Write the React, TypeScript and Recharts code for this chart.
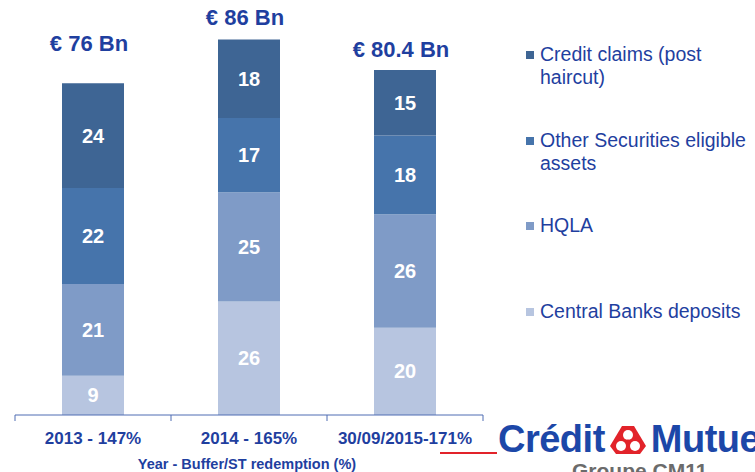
import React from 'react';
import { BarChart, Bar, XAxis, YAxis, LabelList } from 'recharts';

// values in € Bn
const categories = ['2013 - 147%', '2014 - 165%', '30/09/2015-171%'];
const centralBanks = [9, 26, 20];
const hqla = [21, 25, 26];
const otherSecurities = [22, 17, 18];
const creditClaims = [24, 18, 15];
const totals = ['€ 76 Bn', '€ 86 Bn', '€ 80.4 Bn'];

const legendItems = [
    { name: 'Credit claims (post haircut)', lines: ['Credit claims (post', 'haircut)'], color: '#3E6594' },
    { name: 'Other Securities eligible assets', lines: ['Other Securities eligible', 'assets'], color: '#4674AB' },
    { name: 'HQLA', lines: ['HQLA'], color: '#7F9BC7' },
    { name: 'Central Banks deposits', lines: ['Central Banks deposits'], color: '#B7C5E0' },
];

const BLUE_TEXT = '#1F3F9F';
const AXIS_COLOR = '#4F6DB3';
const AXIS_Y = 415;
const BAND = 156;
// how far each total label sits above its bar
const totalLift = [32, 14, 13];

const data = categories.map((name, i) => ({
    name,
    central: centralBanks[i],
    hqla: hqla[i],
    other: otherSecurities[i],
    credit: creditClaims[i],
    total: totals[i],
}));

const AxisTick = (props: any) => {
    const { x, payload, index } = props;
    const half = BAND / 2;
    return (
        <g>
            <line x1={x - half} x2={x - half} y1={AXIS_Y} y2={AXIS_Y + 6} stroke={AXIS_COLOR} strokeWidth={1} />
            {index === categories.length - 1 && (
                <line x1={x + half} x2={x + half} y1={AXIS_Y} y2={AXIS_Y + 6} stroke={AXIS_COLOR} strokeWidth={1} />
            )}
            <text x={x} y={AXIS_Y + 29} textAnchor="middle" fill={BLUE_TEXT} fontSize={17} fontWeight="bold"
                fontFamily="Liberation Sans, Arial, sans-serif">
                {payload.value}
            </text>
        </g>
    );
};

const TotalLabel = (props: any) => {
    const { x, y, width, index } = props;
    return (
        <text x={x + width / 2 - 4} y={y - totalLift[index]} textAnchor="middle" fill={BLUE_TEXT}
            fontSize={22} fontWeight="bold" fontFamily="Liberation Sans, Arial, sans-serif">
            {totals[index]}
        </text>
    );
};

const segLabel = {
    fill: '#FFFFFF',
    fontSize: 20,
    fontWeight: 'bold' as const,
    fontFamily: 'Liberation Sans, Arial, sans-serif',
};

export default function App() {
    return (
        <div style={{ position: 'absolute', left: 0, top: 0, width: 755, height: 472, background: '#fff', overflow: 'hidden', fontFamily: 'Liberation Sans, Arial, sans-serif' }}>
            <BarChart
                width={755}
                height={472}
                data={data}
                margin={{ top: 22, right: 272, left: 15, bottom: 27 }}
                barSize={62}
            >
                <YAxis hide domain={[0, 90]} />
                <XAxis
                    dataKey="name"
                    height={30}
                    axisLine={{ stroke: AXIS_COLOR, strokeWidth: 1 }}
                    tickLine={false}
                    tick={<AxisTick />}
                    interval={0}
                />
                <Bar dataKey="central" stackId="a" fill="#B7C5E0" isAnimationActive={false}>
                    <LabelList dataKey="central" position="center" {...segLabel} />
                </Bar>
                <Bar dataKey="hqla" stackId="a" fill="#7F9BC7" isAnimationActive={false}>
                    <LabelList dataKey="hqla" position="center" {...segLabel} />
                </Bar>
                <Bar dataKey="other" stackId="a" fill="#4674AB" isAnimationActive={false}>
                    <LabelList dataKey="other" position="center" {...segLabel} />
                </Bar>
                <Bar dataKey="credit" stackId="a" fill="#3E6594" isAnimationActive={false}>
                    <LabelList dataKey="credit" position="center" {...segLabel} />
                    <LabelList dataKey="total" content={<TotalLabel />} />
                </Bar>
            </BarChart>

            {/* legend */}
            <div style={{ position: 'absolute', left: 526, top: 43 }}>
                {legendItems.map(item => (
                    <div key={item.name} style={{ position: 'relative', height: 85.5 }}>
                        <div style={{ position: 'absolute', left: 0, top: 8, width: 8, height: 8, background: item.color }} />
                        <div style={{ position: 'absolute', left: 14, top: 0, color: BLUE_TEXT, fontSize: 19.5, lineHeight: '23px', whiteSpace: 'nowrap' }}>
                            {item.lines.map(l => <div key={l}>{l}</div>)}
                        </div>
                    </div>
                ))}
            </div>

            {/* axis title */}
            <div style={{ position: 'absolute', left: 0, width: 494, top: 456, textAlign: 'center', color: BLUE_TEXT, fontSize: 14.5, fontWeight: 'bold', whiteSpace: 'nowrap' }}>
                Year - Buffer/ST redemption (%)
            </div>

            {/* logo */}
            <div style={{ position: 'absolute', left: 440, top: 452, width: 57, height: 2, background: '#E2232A' }} />
            <div style={{ position: 'absolute', left: 498, top: 418, color: '#1C47A8', fontSize: 38, fontWeight: 'bold', whiteSpace: 'nowrap', letterSpacing: -0.5, display: 'flex', alignItems: 'center' }}>
                <span>Crédit</span>
                <svg width={40} height={32} viewBox="0 0 40 32" style={{ margin: '0 3px' }}>
                    <path d="M14 2 L26 2 L38 22 L32 30 L8 30 L2 22 Z" fill="#E2232A" />
                    <circle cx={20} cy={11} r={5} fill="#fff" />
                    <circle cx={13} cy={22} r={5} fill="#fff" />
                    <circle cx={27} cy={22} r={5} fill="#fff" />
                    <circle cx={20} cy={18} r={2.5} fill="#E2232A" />
                </svg>
                <span>Mutuel</span>
            </div>
            <div style={{ position: 'absolute', left: 572, top: 459, color: '#6B6B6B', fontSize: 21, fontWeight: 'bold', whiteSpace: 'nowrap' }}>
                Groupe CM11
            </div>
        </div>
    );
}
